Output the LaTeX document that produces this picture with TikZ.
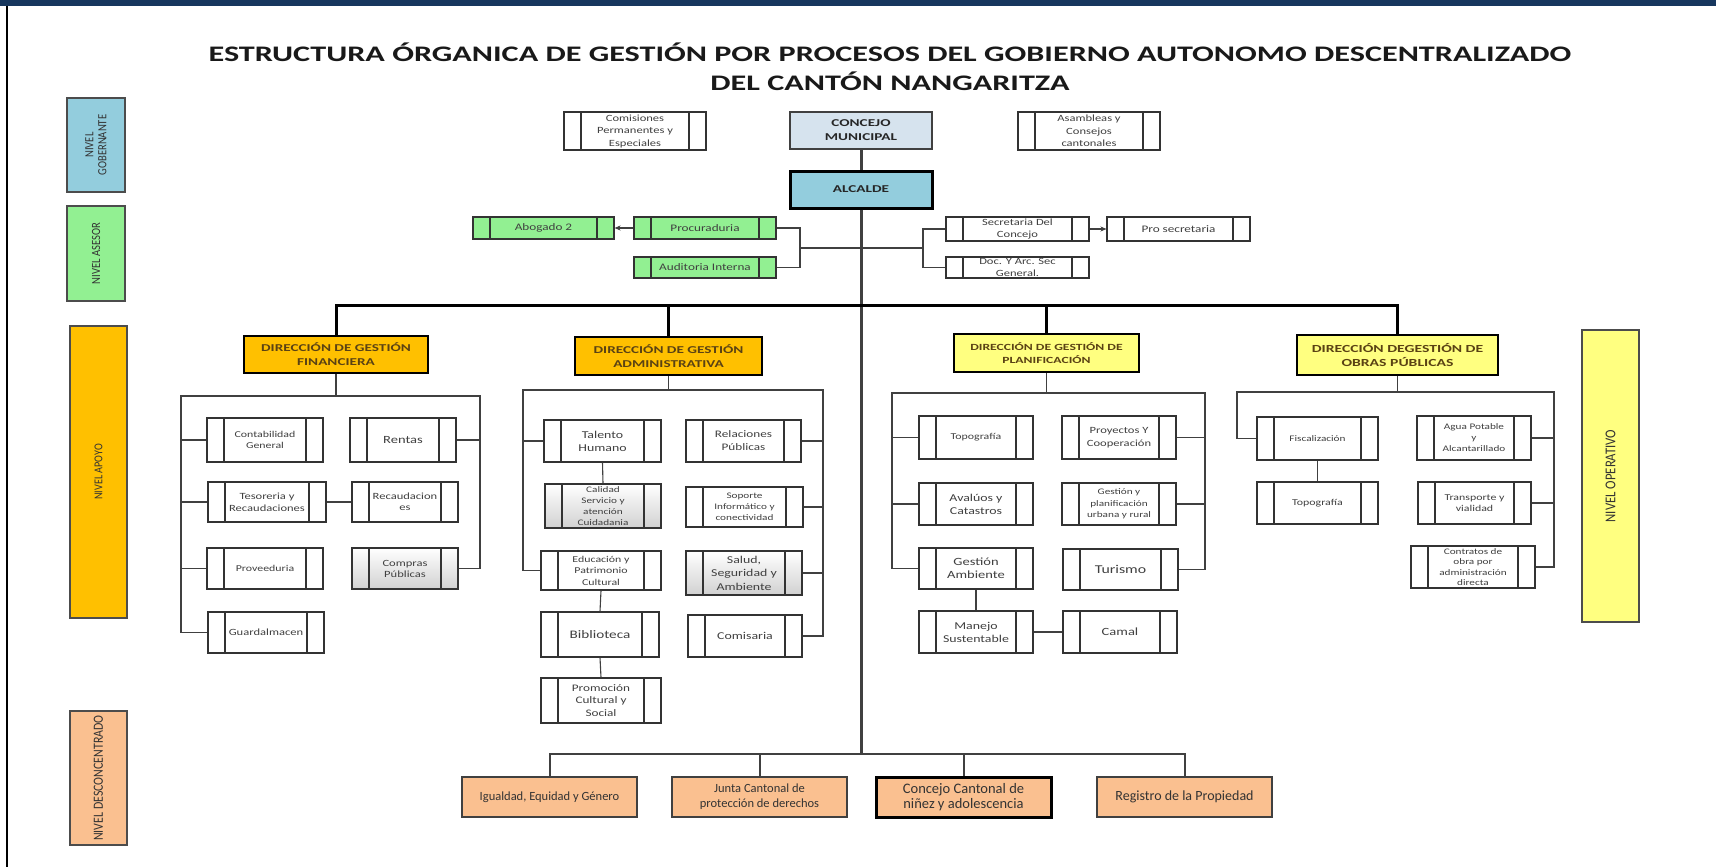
\documentclass[tikz,border=0pt]{standalone}
\usepackage{fontspec}
\setmainfont{Carlito}[FakeStretch=1.32]
\newfontfamily\angosta{Carlito}
\newfontfamily\estrecha{Carlito}[FakeStretch=0.85]
\newfontfamily\negrita{Carlito}[FakeStretch=1.45]
\usepackage{xcolor}
\usetikzlibrary{arrows.meta}
\usetikzlibrary{positioning}
\usetikzlibrary{calc}

\definecolor{marino}{RGB}{23,55,94}
\definecolor{azulgob}{RGB}{147,205,221}
\definecolor{azulconc}{RGB}{214,227,238}
\definecolor{verdease}{RGB}{146,240,146}
\definecolor{naranja}{RGB}{255,192,0}
\definecolor{amarillo}{RGB}{255,255,128}
\definecolor{salmon}{RGB}{250,192,144}
\definecolor{grisTxt}{RGB}{64,64,64}
\definecolor{cafeTxt}{RGB}{90,66,20}

\tikzset{
    proceso/.style={draw=black!80, line width=1.1pt, fill=white, inner sep=0pt, align=center, text=grisTxt,
        path picture={
            \draw[black!80, line width=1.1pt]
                ([xshift=17pt]path picture bounding box.north west) -- ([xshift=17pt]path picture bounding box.south west)
                ([xshift=-17pt]path picture bounding box.north east) -- ([xshift=-17pt]path picture bounding box.south east);
        }},
    procgris/.style={proceso, top color=white, bottom color=black!18},
    fs/.style 2 args={font=\fontsize{#1}{#2}\selectfont},
    nb/.style 2 args={font=\negrita\fontsize{#1}{#2}\selectfont\bfseries},
    na/.style 2 args={font=\angosta\fontsize{#1}{#2}\selectfont},
    ne/.style 2 args={font=\estrecha\fontsize{#1}{#2}\selectfont},
    cabeza/.style={inner sep=0pt, align=center, minimum width=142, minimum height=37, text=black!85, nb={10.5}{14}},
    direccion/.style={draw=black, line width=2pt, inner sep=0pt, align=center, text=cafeTxt, nb={10.5}{14}},
    nivel/.style={draw=black!70, line width=1.2pt, rotate=90, inner sep=0pt, align=center, minimum height=57,
        text=black!80},
    descon/.style={draw=black!75, line width=2pt, fill=salmon, inner sep=0pt, align=center,
        minimum width=175, minimum height=40, text=black!80},
    enlace/.style={draw=black!75, line width=1.1pt},
    eje/.style={draw=black!75, line width=3pt},
}

\begin{document}
\begin{tikzpicture}[x=1pt,y=-1pt]
    \useasboundingbox (0,0) rectangle (1716,867);
    \fill[white] (0,0) rectangle (1716,867);
    \fill[marino] (0,0) rectangle (1716,6);
    \draw[black, line width=1.5pt] (7,6) -- (7,867);

    \node[anchor=base, nb={22.2}{28}, text=black!90] (titulo) at (890,62)
        {ESTRUCTURA ÓRGANICA DE GESTIÓN POR PROCESOS DEL GOBIERNO AUTONOMO DESCENTRALIZADO};
    \node[anchor=base, nb={22.2}{28}, text=black!90] (canton) at (890,90)
        {DEL CANTÓN NANGARITZA};

    % niveles
    \node[nivel, fill=azulgob, minimum width=94, minimum height=58, ne={12.5}{13}] (nGob) at (96,145) {NIVEL\\GOBERNANTE};
    \node[nivel, fill=verdease, minimum width=95, minimum height=58, ne={12.5}{14}] (nAse) at (96,253.5) {NIVEL ASESOR};
    \node[nivel, fill=naranja, minimum width=292, ne={12}{14}] (nApo) at (98.5,472) {NIVEL APOYO};
    \node[nivel, fill=salmon, minimum width=134, ne={14}{16}] (nDes) at (98.5,778) {NIVEL DESCONCENTRADO};
    \node[nivel, fill=amarillo, minimum width=292, ne={15}{16}] (nOpe) at (1610.5,476) {NIVEL OPERATIVO};

    % gobernante
    \node[proceso, minimum width=142, minimum height=38, fs={9.5}{12.5}] (comisiones) at (635,131) {Comisiones\\Permanentes y\\Especiales};
    \node[cabeza, draw=black!75, line width=2.5pt, fill=azulconc] (concejo) at (861,130.5) {CONCEJO\\MUNICIPAL};
    \node[proceso, minimum width=142, minimum height=38, fs={9.5}{12.5}] (asambleas) at (1089,131) {Asambleas y\\Consejos\\cantonales};
    \node[cabeza, draw=black, line width=3pt, fill=azulgob] (alcalde) at (861,189.5) {ALCALDE};

    % asesor
    \node[proceso, fill=verdease, minimum width=141, minimum height=22, fs={10}{12}] (abogado) at (543.5,228) {Abogado 2};
    \node[proceso, fill=verdease, minimum width=142, minimum height=22, fs={10}{12}] (procuraduria) at (705,228) {Procuraduria};
    \node[proceso, fill=verdease, minimum width=142, minimum height=21, fs={10}{12}] (auditoria) at (705,267.5) {Auditoria Interna};
    \node[proceso, minimum width=143, minimum height=24, fs={9.5}{12}] (secretaria) at (1017.5,229) {Secretaria Del\\Concejo};
    \node[proceso, minimum width=143, minimum height=24, fs={10}{12}] (prosecretaria) at (1178.5,229) {Pro secretaria};
    \node[proceso, minimum width=143, minimum height=21, fs={9.5}{12}] (docarchivo) at (1017.5,267.5) {Doc. Y Arc. Sec\\General.};

    \coordinate (aseL) at (800,248);
    \coordinate (aseR) at (923,248);
    \draw[enlace] (procuraduria.east) -| (aseL) |- (auditoria.east);
    \draw[enlace] (aseL) -- (aseR);
    \draw[enlace] (secretaria.west) -| (aseR) |- (docarchivo.west);
    \draw[enlace, -{Stealth[length=6pt,width=5pt]}] (procuraduria.west) -- (abogado.east);
    \draw[enlace, -{Stealth[length=6pt,width=5pt]}] (secretaria.east) -- (prosecretaria.west);

    % direcciones
    \node[direccion, fill=naranja, minimum width=184, minimum height=37] (dFin) at (336,354.5) {DIRECCIÓN DE GESTIÓN\\FINANCIERA};
    \node[direccion, fill=naranja, minimum width=187, minimum height=38] (dAdm) at (668.5,356) {DIRECCIÓN DE GESTIÓN\\ADMINISTRATIVA};
    \node[direccion, fill=amarillo, minimum width=185, minimum height=38, nb={9.4}{13}] (dPla) at (1046.5,353) {DIRECCIÓN DE GESTIÓN DE\\PLANIFICACIÓN};
    \node[direccion, fill=amarillo, minimum width=201, minimum height=40, nb={10.8}{14}] (dObr) at (1397.5,355) {DIRECCIÓN DEGESTIÓN DE\\OBRAS PÚBLICAS};

    % financiera
    \node[proceso, minimum width=116, minimum height=44, fs={9}{11.5}] (contabilidad) at (265,440) {Contabilidad\\General};
    \node[proceso, minimum width=106, minimum height=44, fs={11}{13}] (rentas) at (403,440) {Rentas};
    \node[proceso, minimum width=118, minimum height=40, fs={9.5}{12}] (tesoreria) at (267,502) {Tesoreria y\\Recaudaciones};
    \node[proceso, minimum width=106, minimum height=40, fs={9.5}{11}] (recaudaciones) at (405,502) {Recaudacion\\es};
    \node[proceso, minimum width=116, minimum height=41, fs={9}{11}] (proveeduria) at (265,568.5) {Proveeduria};
    \node[procgris, minimum width=106, minimum height=41, fs={9.5}{11}] (compras) at (405,568.5) {Compras\\Públicas};
    \node[proceso, minimum width=116, minimum height=41, fs={9.5}{11}] (guardalmacen) at (266,632.5) {Guardalmacen};

    \coordinate (finL) at (181,396);
    \coordinate (finR) at (480,396);
    \draw[enlace] (dFin.south) -- (dFin.south |- finL);
    \draw[enlace] (guardalmacen.west) -| (finL) -- (finR) |- (compras.east);
    \foreach \n in {contabilidad,tesoreria,proveeduria}
        \draw[enlace] (\n.west) -- (\n.west -| finL);
    \draw[enlace] (rentas.east) -- (rentas.east -| finR);
    \draw[enlace] (tesoreria.east) -- (recaudaciones.west);

    % administrativa
    \node[proceso, minimum width=117, minimum height=42, fs={10.5}{13}] (talento) at (602.5,441) {Talento\\Humano};
    \node[procgris, minimum width=116, minimum height=44, fs={8.5}{11}] (calidad) at (603,506) {Calidad\\Servicio y\\atención\\Cuidadania};
    \node[proceso, minimum width=120, minimum height=39, fs={9}{11.5}] (educacion) at (601,570.5) {Educación y\\Patrimonio\\Cultural};
    \node[proceso, minimum width=118, minimum height=45, fs={11.5}{13}] (biblioteca) at (600,634.5) {Biblioteca};
    \node[proceso, minimum width=120, minimum height=45, fs={10}{12.5}] (promocion) at (601,700.5) {Promoción\\Cultural y\\Social};
    \node[proceso, minimum width=115, minimum height=42, fs={10}{13}] (relaciones) at (743.5,441) {Relaciones\\Públicas};
    \node[proceso, minimum width=117, minimum height=40, fs={8.5}{11}] (soporte) at (744.5,507) {Soporte\\Informático y\\conectividad};
    \node[procgris, minimum width=116, minimum height=44, fs={10.5}{13.5}] (salud) at (744,573) {Salud,\\Seguridad y\\Ambiente};
    \node[proceso, minimum width=114, minimum height=42, fs={10.5}{13}] (comisaria) at (745,636) {Comisaria};

    \coordinate (admL) at (523,390);
    \coordinate (admR) at (823,390);
    \draw[enlace] (dAdm.south) -- (dAdm.south |- admL);
    \draw[enlace] (educacion.west) -| (admL) -- (admR) |- (comisaria.east);
    \draw[enlace] (talento.west) -- (talento.west -| admL);
    \foreach \n in {relaciones,soporte,salud}
        \draw[enlace] (\n.east) -- (\n.east -| admR);
    \draw[enlace] (talento.south) -- (calidad.north);
    \draw[enlace] (educacion.south) -- (biblioteca.north);
    \draw[enlace] (biblioteca.south) -- (promocion.north);

    % planificacion
    \node[proceso, minimum width=114, minimum height=43, fs={9}{11}] (topografia) at (976,437.5) {Topografía};
    \node[proceso, minimum width=114, minimum height=42, fs={10.5}{13}] (avaluos) at (976,504) {Avalúos y\\Catastros};
    \node[proceso, minimum width=114, minimum height=41, fs={11}{13}] (ambiente) at (976,568.5) {Gestión\\Ambiente};
    \node[proceso, minimum width=114, minimum height=42, fs={10.5}{13}] (manejo) at (976,632) {Manejo\\Sustentable};
    \node[proceso, minimum width=114, minimum height=43, fs={9.5}{12.5}] (proyectos) at (1119,437.5) {Proyectos Y\\Cooperación};
    \node[proceso, minimum width=114, minimum height=42, fs={8.5}{11.5}] (gestplan) at (1119,504) {Gestión y\\planificación\\urbana y rural};
    \node[proceso, minimum width=115, minimum height=41, fs={12}{14}] (turismo) at (1120.5,569.5) {Turismo};
    \node[proceso, minimum width=114, minimum height=42, fs={11}{13}] (camal) at (1120,632) {Camal};

    \coordinate (plaL) at (892,393);
    \coordinate (plaR) at (1205,393);
    \draw[enlace] (dPla.south) -- (dPla.south |- plaL);
    \draw[enlace] (ambiente.west) -| (plaL) -- (plaR) |- (turismo.east);
    \foreach \n in {topografia,avaluos}
        \draw[enlace] (\n.west) -- (\n.west -| plaL);
    \foreach \n in {proyectos,gestplan}
        \draw[enlace] (\n.east) -- (\n.east -| plaR);
    \draw[enlace] (ambiente.south) -- (manejo.north);
    \draw[enlace] (manejo.east) -- (camal.west);

    % obras publicas
    \node[proceso, minimum width=121, minimum height=43, fs={8.5}{11}] (fiscalizacion) at (1317.5,438.5) {Fiscalización};
    \node[proceso, minimum width=121, minimum height=42, fs={9}{11}] (topobras) at (1317.5,503) {Topografía};
    \node[proceso, minimum width=114, minimum height=44, fs={8.5}{11}] (agua) at (1474,438) {Agua Potable\\y\\Alcantarillado};
    \node[proceso, minimum width=113, minimum height=42, fs={9}{11}] (transporte) at (1474.5,503) {Transporte y\\vialidad};
    \node[proceso, minimum width=124, minimum height=42, fs={8.5}{10.5}] (contratos) at (1473,567) {Contratos de\\obra por\\administración\\directa};

    \coordinate (obrL) at (1237,392);
    \coordinate (obrR) at (1554,392);
    \draw[enlace] (dObr.south) -- (dObr.south |- obrL);
    \draw[enlace] (fiscalizacion.west) -| (obrL) -- (obrR) |- (contratos.east);
    \foreach \n in {agua,transporte}
        \draw[enlace] (\n.east) -- (\n.east -| obrR);
    \draw[enlace] (fiscalizacion.south) -- (topobras.north);

    % desconcentrado
    \node[descon, na={12.5}{15}] (igualdad) at (549.5,797) {Igualdad, Equidad y Género};
    \node[descon, na={12.5}{15}] (junta) at (759.5,797) {Junta Cantonal de\\protección de derechos};
    \node[descon, draw=black, line width=3pt, na={14.5}{15.5}] (niniez) at (963.5,797) {Concejo Cantonal de\\niñez y adolescencia};
    \node[descon, na={14}{15}] (registro) at (1184.5,797) {Registro de la Propiedad};

    % ejes
    \coordinate (bus) at (861,305);
    \coordinate (busInf) at (861,754);
    \draw[eje] (concejo.south) -- (alcalde.north);
    \draw[eje] (alcalde.south) -- (busInf);
    \draw[eje, draw=black] (dFin.north) |- (bus) -| (dObr.north);
    \draw[eje, draw=black] (dAdm.north) -- (dAdm.north |- bus);
    \draw[eje, draw=black] (dPla.north) -- (dPla.north |- bus);
    \draw[enlace, line width=2pt] (igualdad.north) |- (busInf) -| (registro.north);
    \draw[enlace, line width=2pt] (junta.north) -- (junta.north |- busInf);
    \draw[enlace, line width=2pt] (niniez.north) -- (niniez.north |- busInf);
\end{tikzpicture}
\end{document}
